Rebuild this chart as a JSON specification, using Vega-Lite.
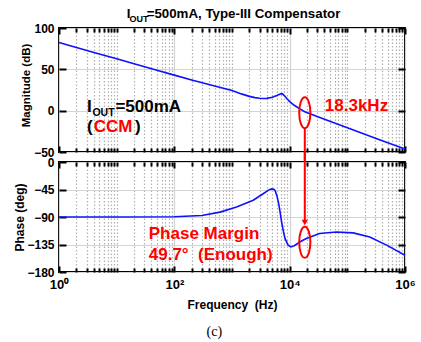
{
  "$schema": "https://vega.github.io/schema/vega-lite/v6.json",
  "padding": {"left": 12, "top": 5, "right": 5, "bottom": 5},
  "spacing": 10,
  "bounds": "flush",
  "title": {"text": "(c)", "orient": "bottom", "anchor": "middle", "font": "Liberation Serif", "fontSize": 14, "fontWeight": "normal", "color": "black", "offset": 14},
  "datasets": {
    "mag": [
      {"f": 1, "v": 82.4}, {"f": 2, "v": 76.5}, {"f": 5, "v": 68.6}, {"f": 10, "v": 62.8},
      {"f": 20, "v": 56.8}, {"f": 50, "v": 48.9}, {"f": 100, "v": 43}, {"f": 200, "v": 37.2},
      {"f": 500, "v": 29.8}, {"f": 1000, "v": 24.5}, {"f": 1500, "v": 20}, {"f": 2000, "v": 17.3},
      {"f": 2500, "v": 15.8}, {"f": 3000, "v": 15}, {"f": 3500, "v": 14.7}, {"f": 4000, "v": 14.9},
      {"f": 5000, "v": 16.2}, {"f": 6000, "v": 18.3}, {"f": 7000, "v": 20.3}, {"f": 7500, "v": 20.4},
      {"f": 8000, "v": 18.6}, {"f": 9000, "v": 14.5}, {"f": 10000, "v": 11}, {"f": 12000, "v": 6.5},
      {"f": 15000, "v": 2.2}, {"f": 18300, "v": -1.2}, {"f": 31600, "v": -7.7}, {"f": 100000, "v": -20.8},
      {"f": 316000, "v": -33.7}, {"f": 1000000, "v": -46.5}
    ],
    "phase": [
      {"f": 1, "v": -90}, {"f": 10, "v": -90}, {"f": 100, "v": -89.5}, {"f": 300, "v": -87.5},
      {"f": 620, "v": -82}, {"f": 1200, "v": -73.5}, {"f": 2330, "v": -62.5}, {"f": 3470, "v": -52},
      {"f": 4300, "v": -46}, {"f": 4860, "v": -44}, {"f": 5300, "v": -44.5}, {"f": 5600, "v": -47},
      {"f": 6000, "v": -55}, {"f": 6450, "v": -68}, {"f": 6900, "v": -85}, {"f": 7300, "v": -100},
      {"f": 7800, "v": -114}, {"f": 8300, "v": -125}, {"f": 9400, "v": -136}, {"f": 10500, "v": -139},
      {"f": 12000, "v": -137}, {"f": 15000, "v": -131}, {"f": 19000, "v": -125.5}, {"f": 33000, "v": -117},
      {"f": 65000, "v": -114.5}, {"f": 126000, "v": -116}, {"f": 245000, "v": -122.7}, {"f": 480000, "v": -136},
      {"f": 1000000, "v": -152.5}
    ],
    "notes": [
      {"id": "tI", "f": 14.9, "v": 112.6, "t": "I"},
      {"id": "tSub", "f": 16.7, "v": 106.9, "t": "OUT"},
      {"id": "tMain", "f": 33.1, "v": 112.6, "t": "=500mA, Type-III Compensator"},
      {"id": "bI", "f": 3.06, "v": -2, "t": "I"},
      {"id": "bSub", "f": 3.8, "v": -6.8, "t": "OUT"},
      {"id": "bMain", "f": 9.5, "v": -2, "t": "=500mA"},
      {"id": "pL", "f": 3.06, "v": -26, "t": "("},
      {"id": "ccm", "f": 4.0, "v": -26, "t": "CCM"},
      {"id": "pR", "f": 20.8, "v": -26, "t": ")"},
      {"id": "fc", "f": 40700, "v": -0.5, "t": "18.3kHz"},
      {"id": "pm1", "f": 36, "v": -125.3, "t": "Phase Margin"},
      {"id": "pm2", "f": 36, "v": -159.7, "t": "49.7°\u00a0\u00a0(Enough)"}
    ],
    "marks": [
      {"id": "ellTop", "f": 18300, "v": -2.5},
      {"id": "ellBot", "f": 18300, "v": -131.4},
      {"id": "arrow", "f": 18300, "v": -99}
    ],
    "rules": [
      {"id": "top", "f": 18300, "v": -21, "v2": -62},
      {"id": "bot", "f": 18300, "v": 16, "v2": -100}
    ]
  },
  "config": {
    "font": "Liberation Sans",
    "view": {"stroke": "black", "strokeWidth": 2},
    "axis": {
      "domain": false,
      "labelFont": "Liberation Sans", "labelFontWeight": "bold", "labelFontSize": 12, "labelColor": "black",
      "titleFont": "Liberation Sans", "titleFontWeight": "bold", "titleFontSize": 12, "titleColor": "black",
      "tickColor": "black", "tickWidth": 2, "gridColor": "#d4d4d4", "gridWidth": 1.2
    }
  },
  "vconcat": [
    {
      "width": 346, "height": 124,
      "resolve": {"axis": {"x": "independent", "y": "independent"}},
      "layer": [
        {
          "data": {"name": "mag"},
          "mark": {"type": "line", "color": "#1010ff", "strokeWidth": 1.6},
          "encoding": {
            "x": {"field": "f", "type": "quantitative", "scale": {"type": "log", "domain": [1, 1000000]},
              "axis": {"title": null, "labels": false,
                "values": [1,2,3,4,5,6,7,8,9,10,20,30,40,50,60,70,80,90,100,200,300,400,500,600,700,800,900,1000,2000,3000,4000,5000,6000,7000,8000,9000,10000,20000,30000,40000,50000,60000,70000,80000,90000,100000,200000,300000,400000,500000,600000,700000,800000,900000,1000000],
                "gridDash": {"condition": {"test": "indexof([1,100,10000,1000000], datum.value) >= 0", "value": []}, "value": [1.5, 2]},
                "gridColor": {"condition": {"test": "indexof([1,100,10000,1000000], datum.value) >= 0", "value": "#d4d4d4"}, "value": "#b0b0b0"},
                "tickSize": {"condition": {"test": "indexof([1,100,10000,1000000], datum.value) >= 0", "value": -6}, "value": -4}}},
            "y": {"field": "v", "type": "quantitative", "scale": {"domain": [-50, 100]},
              "axis": {"title": "Magnitude (dB)", "titleFontSize": 11.5, "values": [-50, 0, 50, 100], "tickSize": -7, "labelPadding": 12, "titleX": -28, "titleY": 57}}
          }
        },
        {
          "data": {"name": "mag"},
          "mark": {"type": "line", "opacity": 0},
          "encoding": {
            "x": {"field": "f", "type": "quantitative", "scale": {"type": "log", "domain": [1, 1000000]},
              "axis": {"orient": "top", "title": null, "labels": false, "grid": false,
                "values": [1,2,3,4,5,6,7,8,9,10,20,30,40,50,60,70,80,90,100,200,300,400,500,600,700,800,900,1000,2000,3000,4000,5000,6000,7000,8000,9000,10000,20000,30000,40000,50000,60000,70000,80000,90000,100000,200000,300000,400000,500000,600000,700000,800000,900000,1000000],
                "tickSize": {"condition": {"test": "indexof([1,100,10000,1000000], datum.value) >= 0", "value": -6}, "value": -4}}},
            "y": {"field": "v", "type": "quantitative", "scale": {"domain": [-50, 100]},
              "axis": {"orient": "right", "title": null, "labels": false, "grid": false, "values": [-50, 0, 50, 100], "tickSize": -7}}
          }
        },
        {
          "data": {"name": "rules"},
          "transform": [{"filter": "datum.id == 'top'"}],
          "mark": {"type": "rule", "color": "#ff0000", "strokeWidth": 2},
          "encoding": {
            "x": {"field": "f", "type": "quantitative", "scale": {"type": "log", "domain": [1, 1000000]}, "axis": null},
            "y": {"field": "v", "type": "quantitative", "scale": {"domain": [-50, 100]}, "axis": null},
            "y2": {"field": "v2"}
          }
        },
        {
          "data": {"name": "marks"},
          "transform": [{"filter": "datum.id == 'ellTop'"}],
          "mark": {"type": "point", "shape": "M0,-1A0.36,1,0,1,1,0,1A0.36,1,0,1,1,0,-1Z", "size": 961, "filled": false, "stroke": "#ff0000", "strokeWidth": 2, "opacity": 1},
          "encoding": {
            "x": {"field": "f", "type": "quantitative", "scale": {"type": "log", "domain": [1, 1000000]}, "axis": null},
            "y": {"field": "v", "type": "quantitative", "scale": {"domain": [-50, 100]}, "axis": null}
          }
        },
        {
          "data": {"name": "notes"},
          "transform": [{"filter": "datum.id == 'tI' || datum.id == 'tMain'"}],
          "mark": {"type": "text", "align": "left", "baseline": "alphabetic", "fontSize": 13.3, "fontWeight": "bold", "color": "black"},
          "encoding": {
            "x": {"field": "f", "type": "quantitative", "scale": {"type": "log", "domain": [1, 1000000]}, "axis": null},
            "y": {"field": "v", "type": "quantitative", "scale": {"domain": [-50, 100]}, "axis": null},
            "text": {"field": "t"}
          }
        },
        {
          "data": {"name": "notes"},
          "transform": [{"filter": "datum.id == 'tSub'"}],
          "mark": {"type": "text", "align": "left", "baseline": "alphabetic", "fontSize": 9, "fontWeight": "bold", "color": "black"},
          "encoding": {
            "x": {"field": "f", "type": "quantitative", "scale": {"type": "log", "domain": [1, 1000000]}, "axis": null},
            "y": {"field": "v", "type": "quantitative", "scale": {"domain": [-50, 100]}, "axis": null},
            "text": {"field": "t"}
          }
        },
        {
          "data": {"name": "notes"},
          "transform": [{"filter": "datum.id == 'bI' || datum.id == 'bMain' || datum.id == 'pL' || datum.id == 'pR'"}],
          "mark": {"type": "text", "align": "left", "baseline": "alphabetic", "fontSize": 17, "fontWeight": "bold", "color": "black"},
          "encoding": {
            "x": {"field": "f", "type": "quantitative", "scale": {"type": "log", "domain": [1, 1000000]}, "axis": null},
            "y": {"field": "v", "type": "quantitative", "scale": {"domain": [-50, 100]}, "axis": null},
            "text": {"field": "t"}
          }
        },
        {
          "data": {"name": "notes"},
          "transform": [{"filter": "datum.id == 'bSub'"}],
          "mark": {"type": "text", "align": "left", "baseline": "alphabetic", "fontSize": 10.5, "fontWeight": "bold", "color": "black"},
          "encoding": {
            "x": {"field": "f", "type": "quantitative", "scale": {"type": "log", "domain": [1, 1000000]}, "axis": null},
            "y": {"field": "v", "type": "quantitative", "scale": {"domain": [-50, 100]}, "axis": null},
            "text": {"field": "t"}
          }
        },
        {
          "data": {"name": "notes"},
          "transform": [{"filter": "datum.id == 'ccm' || datum.id == 'fc'"}],
          "mark": {"type": "text", "align": "left", "baseline": "alphabetic", "fontSize": 17, "fontWeight": "bold", "color": "#ff0000"},
          "encoding": {
            "x": {"field": "f", "type": "quantitative", "scale": {"type": "log", "domain": [1, 1000000]}, "axis": null},
            "y": {"field": "v", "type": "quantitative", "scale": {"domain": [-50, 100]}, "axis": null},
            "text": {"field": "t"}
          }
        }
      ]
    },
    {
      "width": 346, "height": 110,
      "resolve": {"axis": {"x": "independent", "y": "independent"}},
      "layer": [
        {
          "data": {"name": "phase"},
          "mark": {"type": "line", "color": "#1010ff", "strokeWidth": 1.6},
          "encoding": {
            "x": {"field": "f", "type": "quantitative", "scale": {"type": "log", "domain": [1, 1000000]},
              "axis": {"title": "Frequency\u00a0\u00a0(Hz)", "titlePadding": 6,
                "values": [1,2,3,4,5,6,7,8,9,10,20,30,40,50,60,70,80,90,100,200,300,400,500,600,700,800,900,1000,2000,3000,4000,5000,6000,7000,8000,9000,10000,20000,30000,40000,50000,60000,70000,80000,90000,100000,200000,300000,400000,500000,600000,700000,800000,900000,1000000],
                "labelExpr": "datum.value == 1 ? '10⁰' : datum.value == 100 ? '10²' : datum.value == 10000 ? '10⁴' : datum.value == 1000000 ? '10⁶' : ''",
                "labelFontSize": 13, "labelPadding": 12, "labelFlush": false, "labelOverlap": false,
                "gridDash": {"condition": {"test": "indexof([1,100,10000,1000000], datum.value) >= 0", "value": []}, "value": [1.5, 2]},
                "gridColor": {"condition": {"test": "indexof([1,100,10000,1000000], datum.value) >= 0", "value": "#d4d4d4"}, "value": "#b0b0b0"},
                "tickSize": {"condition": {"test": "indexof([1,100,10000,1000000], datum.value) >= 0", "value": -6}, "value": -4}}},
            "y": {"field": "v", "type": "quantitative", "scale": {"domain": [-180, 0]},
              "axis": {"title": "Phase (deg)", "values": [-180, -135, -90, -45, 0], "tickSize": -7, "labelPadding": 12, "titleX": -32.5}}
          }
        },
        {
          "data": {"name": "phase"},
          "mark": {"type": "line", "opacity": 0},
          "encoding": {
            "x": {"field": "f", "type": "quantitative", "scale": {"type": "log", "domain": [1, 1000000]},
              "axis": {"orient": "top", "title": null, "labels": false, "grid": false,
                "values": [1,2,3,4,5,6,7,8,9,10,20,30,40,50,60,70,80,90,100,200,300,400,500,600,700,800,900,1000,2000,3000,4000,5000,6000,7000,8000,9000,10000,20000,30000,40000,50000,60000,70000,80000,90000,100000,200000,300000,400000,500000,600000,700000,800000,900000,1000000],
                "tickSize": {"condition": {"test": "indexof([1,100,10000,1000000], datum.value) >= 0", "value": -6}, "value": -4}}},
            "y": {"field": "v", "type": "quantitative", "scale": {"domain": [-180, 0]},
              "axis": {"orient": "right", "title": null, "labels": false, "grid": false, "values": [-180, -135, -90, -45, 0], "tickSize": -7}}
          }
        },
        {
          "data": {"name": "rules"},
          "transform": [{"filter": "datum.id == 'bot'"}],
          "mark": {"type": "rule", "color": "#ff0000", "strokeWidth": 2},
          "encoding": {
            "x": {"field": "f", "type": "quantitative", "scale": {"type": "log", "domain": [1, 1000000]}, "axis": null},
            "y": {"field": "v", "type": "quantitative", "scale": {"domain": [-180, 0]}, "axis": null},
            "y2": {"field": "v2"}
          }
        },
        {
          "data": {"name": "marks"},
          "transform": [{"filter": "datum.id == 'arrow'"}],
          "mark": {"type": "point", "shape": "triangle-down", "size": 40, "filled": true, "color": "#ff0000", "opacity": 1},
          "encoding": {
            "x": {"field": "f", "type": "quantitative", "scale": {"type": "log", "domain": [1, 1000000]}, "axis": null},
            "y": {"field": "v", "type": "quantitative", "scale": {"domain": [-180, 0]}, "axis": null}
          }
        },
        {
          "data": {"name": "marks"},
          "transform": [{"filter": "datum.id == 'ellBot'"}],
          "mark": {"type": "point", "shape": "M0,-1A0.36,1,0,1,1,0,1A0.36,1,0,1,1,0,-1Z", "size": 961, "filled": false, "stroke": "#ff0000", "strokeWidth": 2, "opacity": 1},
          "encoding": {
            "x": {"field": "f", "type": "quantitative", "scale": {"type": "log", "domain": [1, 1000000]}, "axis": null},
            "y": {"field": "v", "type": "quantitative", "scale": {"domain": [-180, 0]}, "axis": null}
          }
        },
        {
          "data": {"name": "notes"},
          "transform": [{"filter": "datum.id == 'pm1' || datum.id == 'pm2'"}],
          "mark": {"type": "text", "align": "left", "baseline": "alphabetic", "fontSize": 17, "fontWeight": "bold", "color": "#ff0000"},
          "encoding": {
            "x": {"field": "f", "type": "quantitative", "scale": {"type": "log", "domain": [1, 1000000]}, "axis": null},
            "y": {"field": "v", "type": "quantitative", "scale": {"domain": [-180, 0]}, "axis": null},
            "text": {"field": "t"}
          }
        }
      ]
    }
  ]
}
